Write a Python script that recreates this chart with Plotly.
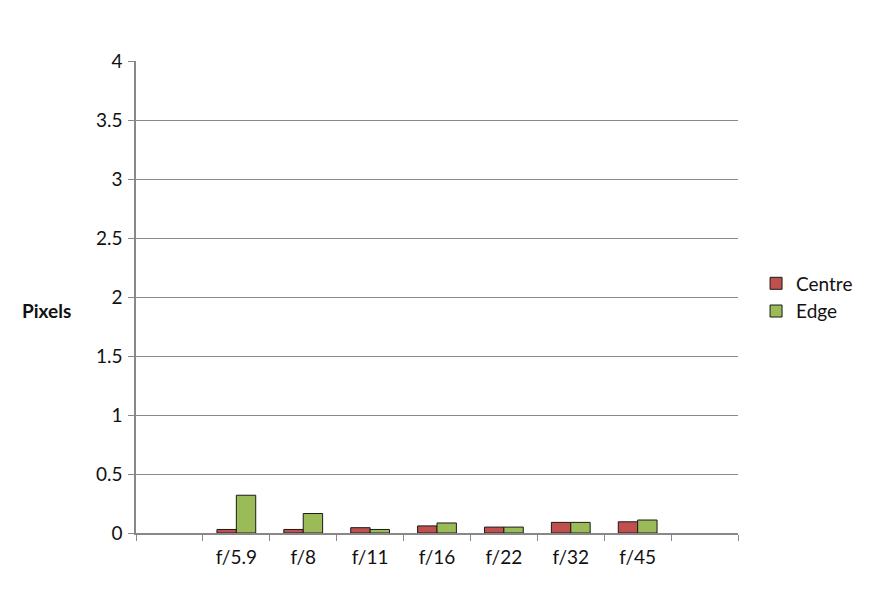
import plotly.graph_objects as go

categories = ["", "f/5.9", "f/8", "f/11", "f/16", "f/22", "f/32", "f/45", " "]
centre = [None, 0.03, 0.03, 0.045, 0.06, 0.05, 0.09, 0.095, None]
edge = [None, 0.32, 0.165, 0.03, 0.085, 0.05, 0.09, 0.11, None]
y_ticks = [0, 0.5, 1, 1.5, 2, 2.5, 3, 3.5, 4]
y_labels = ["0", "0.5", "1", "1.5", "2", "2.5", "3", "3.5", "4"]

font_family = "Lato, Open Sans, Liberation Sans, sans-serif"

fig = go.Figure()
fig.add_trace(go.Bar(x=categories, y=centre, name="Centre",
                     marker=dict(color="#C0504D", line=dict(color="#1a1a1a", width=1))))
fig.add_trace(go.Bar(x=categories, y=edge, name="Edge",
                     marker=dict(color="#9BBB59", line=dict(color="#1a1a1a", width=1))))

fig.update_layout(
    width=872, height=599,
    margin=dict(l=128, r=142, t=53, b=74, autoexpand=False),
    paper_bgcolor="white", plot_bgcolor="white",
    barmode="group", bargap=0.42, bargroupgap=0,
    font=dict(family=font_family, size=19, color="#111111"),
    legend=dict(x=1.03, y=0.499, xanchor="left", yanchor="middle",
                font=dict(size=19), itemwidth=30, tracegroupgap=4),
    showlegend=True,
    annotations=[dict(text="<b>Pixels</b>", xref="paper", yref="paper",
                      x=-0.149, y=0.472, xanchor="center", yanchor="middle",
                      showarrow=False, font=dict(size=19))],
)
fig.update_xaxes(type="category", categoryorder="array", categoryarray=categories,
                 tickson="boundaries", ticks="outside", ticklen=6, tickcolor="#888888",
                 showline=True, linecolor="#888888", linewidth=1.5, automargin=False,
                 showgrid=False, tickfont=dict(size=19), ticklabelstandoff=6)
fig.update_yaxes(range=[0, 4], tickvals=y_ticks, ticktext=y_labels,
                 ticks="outside", ticklen=6, tickcolor="#888888",
                 showline=True, linecolor="#888888", linewidth=1.5, automargin=False,
                 showgrid=True, gridcolor="#8a8a8a", gridwidth=1,
                 zeroline=False, tickfont=dict(size=19), ticklabelstandoff=2)

fig.write_html("out.html")
